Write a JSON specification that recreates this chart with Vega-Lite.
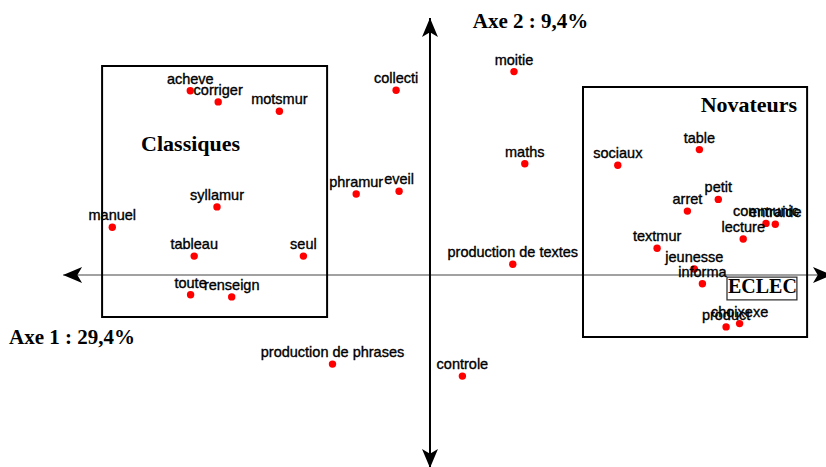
{
  "$schema": "https://vega.github.io/schema/vega-lite/v6.json",
  "width": 826,
  "height": 467,
  "padding": 0,
  "autosize": {"type": "none"},
  "background": "white",
  "config": {"view": {"stroke": null}},
  "datasets": {
    "points": [
      {"label": "acheve", "x": -0.799, "y": 0.614},
      {"label": "corriger", "x": -0.706, "y": 0.577},
      {"label": "motsmur", "x": -0.502, "y": 0.546},
      {"label": "collecti", "x": -0.113, "y": 0.616},
      {"label": "moitie", "x": 0.280, "y": 0.678},
      {"label": "maths", "x": 0.316, "y": 0.371},
      {"label": "syllamur", "x": -0.710, "y": 0.227},
      {"label": "manuel", "x": -1.059, "y": 0.159},
      {"label": "phramur", "x": -0.246, "y": 0.270},
      {"label": "eveil", "x": -0.103, "y": 0.279},
      {"label": "tableau", "x": -0.786, "y": 0.063},
      {"label": "seul", "x": -0.422, "y": 0.063},
      {"label": "toute", "x": -0.798, "y": -0.066},
      {"label": "renseign", "x": -0.661, "y": -0.073},
      {"label": "production de textes", "x": 0.276, "y": 0.036},
      {"label": "production de phrases", "x": -0.325, "y": -0.297},
      {"label": "controle", "x": 0.108, "y": -0.337},
      {"label": "sociaux", "x": 0.626, "y": 0.366},
      {"label": "table", "x": 0.898, "y": 0.418},
      {"label": "petit", "x": 0.961, "y": 0.252},
      {"label": "arret", "x": 0.858, "y": 0.213},
      {"label": "communic", "x": 1.120, "y": 0.172},
      {"label": "entraide", "x": 1.151, "y": 0.169},
      {"label": "lecture", "x": 1.044, "y": 0.120},
      {"label": "textmur", "x": 0.757, "y": 0.089},
      {"label": "jeunesse", "x": 0.881, "y": 0.020},
      {"label": "informa", "x": 0.908, "y": -0.029},
      {"label": "product", "x": 0.987, "y": -0.173},
      {"label": "choixexe", "x": 1.032, "y": -0.162}
    ],
    "axes": [
      {"kind": "h", "x": -1.223, "y": 0, "x2": 1.34, "y2": 0},
      {"kind": "v", "x": 0, "y": -0.643, "x2": 0, "y2": 0.857}
    ],
    "arrows": [
      {"dir": "left", "x": -1.223, "y": 0},
      {"dir": "right", "x": 1.34, "y": 0},
      {"dir": "up", "x": 0, "y": 0.857},
      {"dir": "down", "x": 0, "y": -0.643}
    ],
    "boxes": [
      {"name": "Classiques", "x": -1.093, "y": 0.697, "x2": -0.343, "y2": -0.14},
      {"name": "Novateurs", "x": 0.51, "y": 0.627, "x2": 1.257, "y2": -0.207}
    ],
    "eclecbox": [
      {"name": "ECLEC", "x": 0.99, "y": -0.007, "x2": 1.223, "y2": -0.083}
    ],
    "titles": [
      {"text": "Classiques", "group": "group", "x": -0.798, "y": 0.413},
      {"text": "Novateurs", "group": "group", "x": 1.063, "y": 0.543},
      {"text": "Axe 2 : 9,4%", "group": "axis", "x": 0.335, "y": 0.822},
      {"text": "Axe 1 : 29,4%", "group": "axis", "x": -1.193, "y": -0.23},
      {"text": "ECLEC", "group": "eclec", "x": 1.108, "y": -0.059}
    ]
  },
  "encoding": {
    "x": {"field": "x", "type": "quantitative", "scale": {"domain": [-1.4333, 1.32], "nice": false, "zero": false}, "axis": null},
    "y": {"field": "y", "type": "quantitative", "scale": {"domain": [-0.64, 0.9167], "nice": false, "zero": false}, "axis": null}
  },
  "layer": [
    {
      "data": {"name": "axes"},
      "transform": [{"filter": "datum.kind === 'h'"}],
      "mark": {"type": "rule", "color": "#444444", "strokeWidth": 1.2},
      "encoding": {"x2": {"field": "x2"}, "y2": {"field": "y2"}}
    },
    {
      "data": {"name": "axes"},
      "transform": [{"filter": "datum.kind === 'v'"}],
      "mark": {"type": "rule", "color": "#000000", "strokeWidth": 2},
      "encoding": {"x2": {"field": "x2"}, "y2": {"field": "y2"}}
    },
    {
      "data": {"name": "boxes"},
      "mark": {"type": "rect", "filled": false, "stroke": "#000000", "strokeWidth": 2},
      "encoding": {"x2": {"field": "x2"}, "y2": {"field": "y2"}}
    },
    {
      "data": {"name": "eclecbox"},
      "mark": {"type": "rect", "fill": "white", "stroke": "#333333", "strokeWidth": 1.3},
      "encoding": {"x2": {"field": "x2"}, "y2": {"field": "y2"}}
    },
    {
      "data": {"name": "arrows"},
      "mark": {"type": "point", "filled": true, "color": "#000000", "opacity": 1, "size": 361, "strokeWidth": 0},
      "encoding": {
        "shape": {
          "field": "dir", "type": "nominal", "legend": null,
          "scale": {
            "domain": ["left", "right", "up", "down"],
            "range": [
              "M0,0 L2,-0.84 L1.5,0 L2,0.84 Z",
              "M0,0 L-2,-0.84 L-1.5,0 L-2,0.84 Z",
              "M0,0 L-0.84,2 L0,1.5 L0.84,2 Z",
              "M0,0 L-0.84,-2 L0,-1.5 L0.84,-2 Z"
            ]
          }
        }
      }
    },
    {
      "data": {"name": "points"},
      "mark": {"type": "point", "filled": true, "color": "#ff0000", "opacity": 1, "size": 55, "strokeWidth": 0},
      "encoding": {}
    },
    {
      "data": {"name": "points"},
      "mark": {"type": "text", "align": "center", "baseline": "alphabetic", "dy": -7, "font": "Liberation Sans", "fontSize": 14.5, "color": "#000000", "stroke": "#000000", "strokeWidth": 0.35},
      "encoding": {"text": {"field": "label"}}
    },
    {
      "data": {"name": "titles"},
      "mark": {"type": "text", "align": "center", "baseline": "alphabetic", "font": "Liberation Serif", "fontWeight": "bold", "color": "#000000"},
      "encoding": {
        "text": {"field": "text"},
        "size": {"field": "group", "type": "nominal", "legend": null, "scale": {"domain": ["group", "axis", "eclec"], "range": [22, 20, 18]}}
      }
    }
  ]
}
